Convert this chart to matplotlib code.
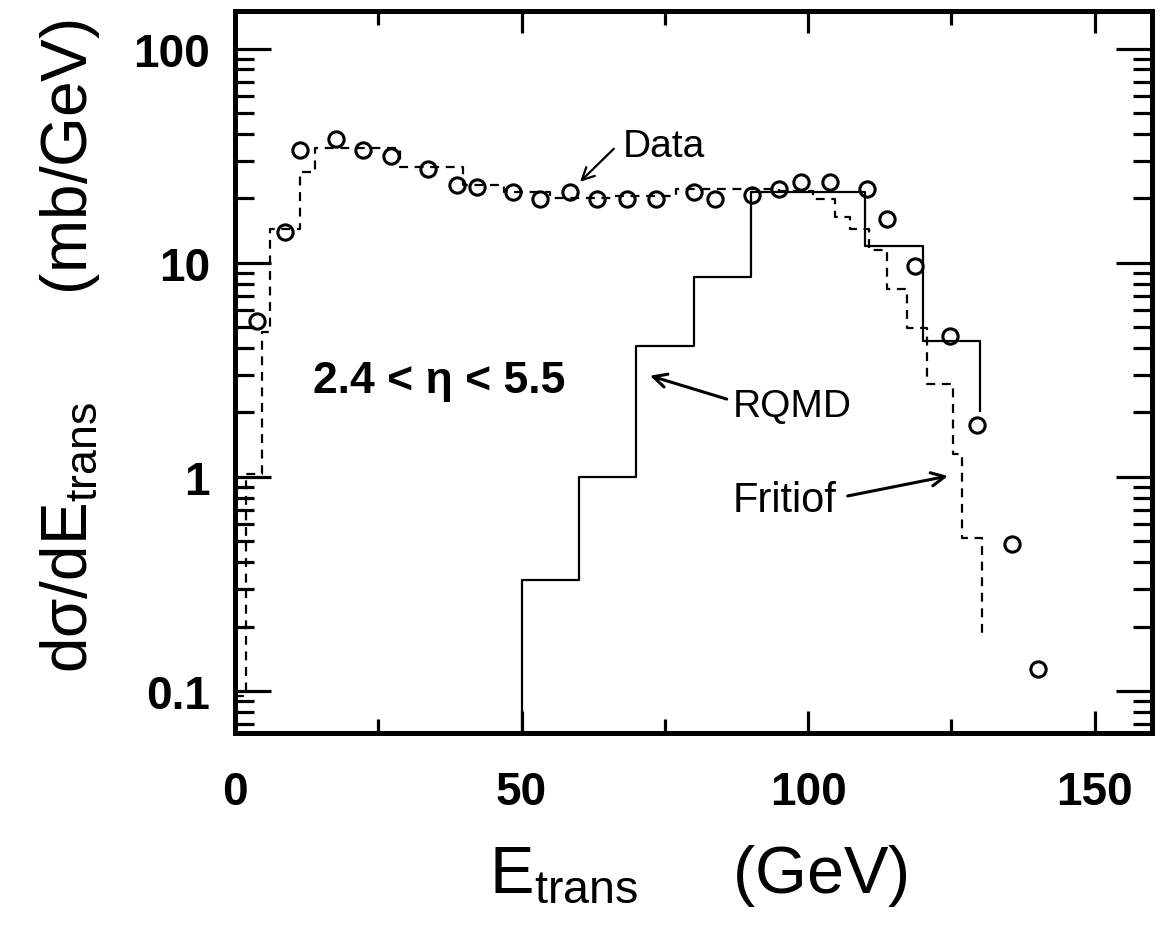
import numpy as np
import matplotlib
matplotlib.use("Agg")
import matplotlib.pyplot as plt
from matplotlib.ticker import FixedLocator, FixedFormatter, NullFormatter

# ---------------- data ----------------
data_e = [3.8, 8.7, 11.3, 17.7, 22.4, 27.3, 33.7, 38.7, 42.2, 48.5, 53.2, 58.4,
          63.1, 68.4, 73.4, 80.0, 83.7, 90.2, 94.9, 98.8, 103.8, 110.2, 113.7,
          118.6, 124.7, 129.5, 135.5, 140.1]
data_y = [5.37, 13.9, 33.5, 38.0, 33.5, 31.7, 27.5, 23.0, 22.6, 21.5, 19.9, 21.5,
          19.9, 19.9, 19.9, 21.4, 19.9, 20.8, 22.2, 23.8, 23.8, 22.2, 16.1,
          9.7, 4.57, 1.74, 0.486, 0.127]

fritiof_edges = [0, 2.0, 4.65, 6.1, 11.3, 14.0, 28.8, 39.8, 47.0, 55.0, 66.0, 77.0,
                 95.0, 100.8, 104.7, 107.3, 110.6, 113.7, 117.2, 120.7, 125.2,
                 126.8, 130.3]
fritiof_vals = [0.095, 1.03, 4.76, 14.4, 26.6, 34.5, 28.0, 23.0, 21.4, 20.0, 20.5,
                22.2, 21.7, 19.9, 16.4, 14.4, 11.5, 7.56, 4.95, 2.72, 1.28, 0.52]
fritiof_tail = 0.184

rqmd_edges = [50, 60, 70, 80, 90, 100, 110, 120, 130]
rqmd_vals = [0.33, 1.0, 4.1, 8.6, 21.5, 21.5, 12.0, 4.3]
rqmd_tail = 2.04

x_ticks = [0, 50, 100, 150]
x_minor = [25, 75, 125]
y_ticks = [0.1, 1, 10, 100]
y_tick_labels = ["0.1", "1", "10", "100"]

FAM = ["Liberation Sans", "DejaVu Sans"]
plt.rcParams["mathtext.fontset"] = "custom"
plt.rcParams["mathtext.rm"] = "Liberation Sans"
plt.rcParams["mathtext.it"] = "Liberation Sans:italic"
plt.rcParams["mathtext.bf"] = "Liberation Sans:bold"


def step_path(edges, vals, tail, start=None):
    xs = list(np.repeat(edges, 2)[1:-1])
    ys = list(np.repeat(vals, 2))
    if start is not None:
        xs = [edges[0]] + xs
        ys = [start] + ys
    xs.append(edges[-1])
    ys.append(tail)
    return xs, ys


fig = plt.figure(figsize=(11.6, 9.29), dpi=100)
ax = fig.add_axes([235 / 1160, 1 - 734 / 929, (1152 - 235) / 1160, (734 - 12) / 929])
ax.set_yscale("log")
ax.set_xlim(0, 160)
ax.set_ylim(0.0637, 150)

fx, fy = step_path(fritiof_edges, fritiof_vals, fritiof_tail)
ax.plot(fx, fy, color="black", lw=1.6, linestyle=(0, (4, 3)))

rx, ry = step_path(rqmd_edges, rqmd_vals, rqmd_tail, start=1e-3)
ax.plot(rx, ry, color="black", lw=1.6)

ax.plot(data_e, data_y, linestyle="none", marker="o", ms=11, mfc="none",
        mec="black", mew=2.2)

# ticks
ax.xaxis.set_major_locator(FixedLocator(x_ticks))
ax.xaxis.set_minor_locator(FixedLocator(x_minor))
ax.yaxis.set_major_locator(FixedLocator(y_ticks))
minors = [m * 10.0 ** d for d in range(-2, 3) for m in range(2, 10)]
ax.yaxis.set_minor_locator(FixedLocator(minors))
ax.yaxis.set_major_formatter(FixedFormatter(y_tick_labels))
ax.yaxis.set_minor_formatter(NullFormatter())
ax.tick_params(axis="both", which="both", direction="in", top=True, right=True,
               width=2.3, color="black")
ax.tick_params(axis="x", which="major", length=16, pad=27)
ax.tick_params(axis="x", which="minor", length=10)
ax.tick_params(axis="y", which="major", length=26, pad=18)
ax.tick_params(axis="y", which="minor", length=14)
for lab in ax.get_xticklabels() + ax.get_yticklabels():
    lab.set_family(FAM)
    lab.set_fontweight("bold")
    lab.set_fontsize(33)
for s in ax.spines.values():
    s.set_linewidth(3.6)

# annotations
ax.text(67.7, 31.6, "Data", fontsize=28, family=FAM, va="baseline", ha="left")
ax.annotate("", xy=(60.2, 23.9), xytext=(66.1, 34.1),
            arrowprops=dict(arrowstyle="->", lw=1.6, color="black",
                            mutation_scale=22, shrinkA=0, shrinkB=0))
ax.text(86.9, 1.93, "RQMD", fontsize=28, family=FAM, va="baseline", ha="left")
ax.annotate("", xy=(72.4, 2.97), xytext=(85.8, 2.31),
            arrowprops=dict(arrowstyle="->", lw=2.2, color="black",
                            mutation_scale=24, shrinkA=0, shrinkB=0))
ax.text(86.9, 0.693, "Fritiof", fontsize=30, family=FAM, va="baseline", ha="left")
ax.annotate("", xy=(124.4, 1.01), xytext=(106.9, 0.815),
            arrowprops=dict(arrowstyle="->", lw=2.2, color="black",
                            mutation_scale=24, shrinkA=0, shrinkB=0))
ax.text(13.6, 2.49, "2.4 < η < 5.5", fontsize=32, family=FAM,
        fontweight="bold", va="baseline", ha="left")

# axis labels
fig.text(698 / 1160, 1 - 876 / 929, r"E$_{\mathrm{trans}}$     (GeV)",
         fontsize=48, family=FAM, ha="center", va="center")
fig.text(70 / 1160, 1 - 346 / 929, r"dσ/dE$_{\mathrm{trans}}$      (mb/GeV)",
         fontsize=46, family=FAM, ha="center", va="center", rotation=90)

fig.savefig("out.png", dpi=100)
